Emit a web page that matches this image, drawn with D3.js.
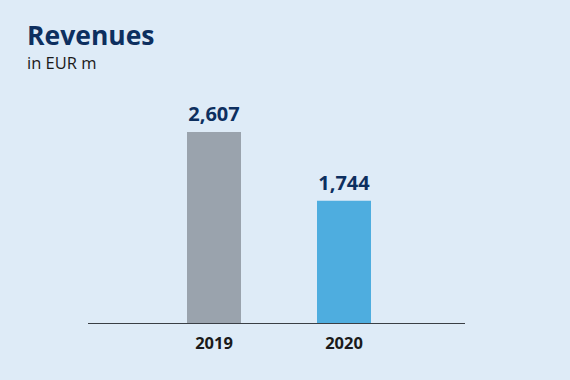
<!DOCTYPE html>
<html><head><meta charset="utf-8">
<script src="https://cdn.jsdelivr.net/npm/d3@7"></script>
<style>html,body{margin:0;padding:0;background:#deebf7;}svg{display:block;}</style>
</head><body>
<script>
const categories = ["2019", "2020"];
const values = [2607, 1744];
const valueLabels = ["2,607", "1,744"];
const colors = ["#9aa3ad", "#4eaddf"];

const W = 570, H = 380;
const svg = d3.select("body").append("svg").attr("width", W).attr("height", H);
svg.append("rect").attr("width", W).attr("height", H).attr("fill", "#deebf7");

svg.append("text").attr("x", 27).attr("y", 45)
  .attr("font-family", "Open Sans").attr("font-weight", 700).attr("font-size", 26.5)
  .attr("fill", "#0d2f5f").text("Revenues");
svg.append("text").attr("x", 27).attr("y", 69)
  .attr("font-family", "Open Sans").attr("font-size", 16.5)
  .attr("fill", "#1a1a1a").text("in EUR m");

const x = d3.scaleBand().domain(categories).range([149, 409]).paddingInner(0.5846).paddingOuter(0.2923);
const y = d3.scaleLinear().domain([210, 2607]).range([323, 132]);

const g = svg.append("g");
g.selectAll("rect.bar").data(categories).join("rect").attr("class", "bar")
  .attr("x", d => x(d)).attr("width", x.bandwidth())
  .attr("y", (d, i) => y(values[i])).attr("height", (d, i) => 323 - y(values[i]))
  .attr("fill", (d, i) => colors[i]);

g.selectAll("text.val").data(categories).join("text").attr("class", "val")
  .attr("x", d => x(d) + x.bandwidth() / 2).attr("y", (d, i) => y(values[i]) - 11)
  .attr("text-anchor", "middle").attr("font-family", "Open Sans").attr("font-weight", 700)
  .attr("font-size", 20).attr("fill", "#0d2f5f").text((d, i) => valueLabels[i]);

const axis = svg.append("g").attr("transform", "translate(0,323)")
  .call(d3.axisBottom(x).tickSize(0).tickPadding(14));
axis.select(".domain").remove();
axis.selectAll("text").attr("font-family", "Open Sans").attr("font-weight", 700)
  .attr("font-size", 16.5).attr("fill", "#1a1a1a");
svg.append("line").attr("x1", 88).attr("x2", 465).attr("y1", 323.5).attr("y2", 323.5)
  .attr("stroke", "#3a3f45").attr("stroke-width", 1);
</script>
</body></html>
